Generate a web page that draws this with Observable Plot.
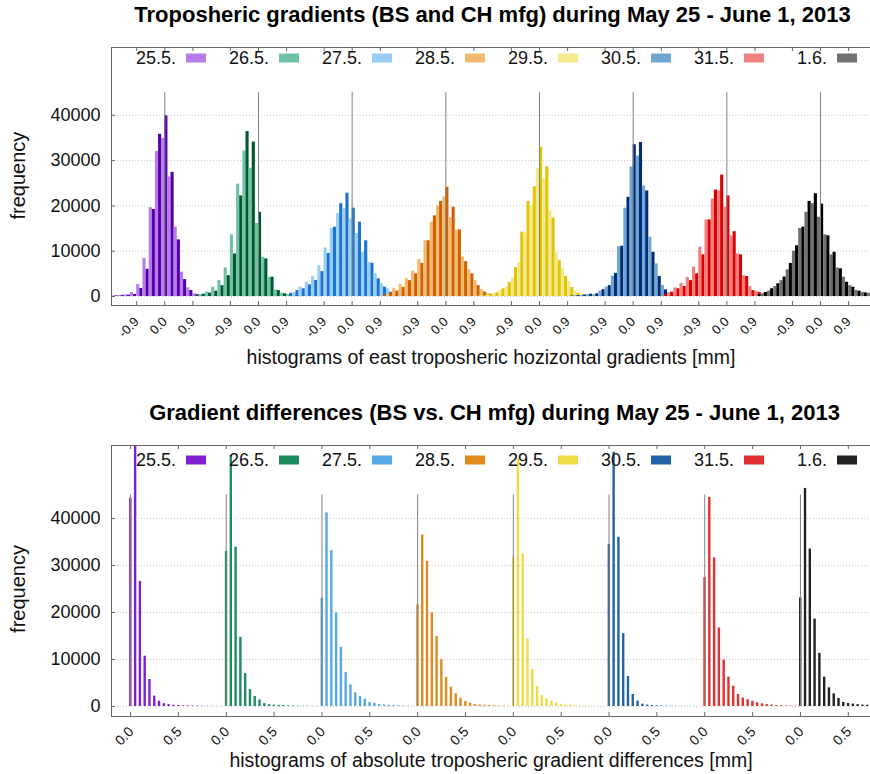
<!DOCTYPE html>
<html><head><meta charset="utf-8">
<script src="https://cdn.jsdelivr.net/npm/d3@7"></script>
<script src="https://cdn.jsdelivr.net/npm/@observablehq/plot@0.6"></script>
<style>
body{margin:0;background:#fff;font-family:"Liberation Sans",Arial,sans-serif;}
#wrap{position:relative;width:870px;height:774px;overflow:hidden;background:#fff;}
.title{position:absolute;text-align:center;font-weight:bold;font-size:22px;line-height:24px;color:#000;white-space:nowrap;}
.chart{position:absolute;left:0;}
</style></head><body>
<div id="wrap">
<div class="title" style="top:3px;left:113px;width:759px">Troposheric gradients (BS and CH mfg) during May 25 - June 1, 2013</div>
<div class="chart" id="c1" style="top:30px"></div>
<div class="title" style="top:401px;left:115px;width:759px">Gradient differences (BS vs. CH mfg) during May 25 - June 1, 2013</div>
<div class="chart" id="c2" style="top:425px"></div>
</div>
<script>
// ---- categories / labels ----
const days = ["25.5.","26.5.","27.5.","28.5.","29.5.","30.5.","31.5.","1.6."];
const lightColors = ["#b77ce9","#6fc3a5","#98cef1","#f0bb6c","#f4e98a","#6fa7d3","#f08080","#707070"];
const darkColors  = ["#5500aa","#005a2c","#1c74d0","#d06000","#e2c400","#002c78","#dd0000","#000000"];
const midColors   = ["#7e1fd3","#1e8c60","#56a8e6","#e28a22","#efdc45","#2163a8","#e23030","#222222"];
const yTicks = [0, 10000, 20000, 30000, 40000];
const eastTickOffsets = [-0.9, 0, 0.9];
const eastTickLabels = ["-0.9", "0.0", "0.9"];
const diffTickOffsets = [0, 0.5];
const diffTickLabels = ["0.0", "0.5"];
const eastGroupStep = 3;
const diffGroupStep = 1;
const eastBin = 0.1;      // east gradient histogram bin (k = -20 .. 16)
const diffBin = 0.05;     // difference histogram bin (j = 0 .. 19)
const eastKStart = -20;
const refLineValue = 45000;

// ---- east gradient histograms (bins k*0.1, k=-20..16; even k dark, odd k light) ----
const east255 = [50,50,100,100,150,200,250,350,300,880,440,2640,1760,8360,6000,19600,19200,32000,35800,34900,39900,26400,27400,15300,12500,5360,3740,1900,1320,600,400,300,200,150,100,100,50];
const east265 = [300,400,500,950,730,2050,1170,3500,2400,6300,4600,13600,9400,24800,22200,32100,36400,28300,34100,16100,18600,8660,8300,4250,4250,1470,1320,730,600,450,350,300,250,200,200,150,100];
const east275 = [700,900,1320,2050,1700,3150,2570,4400,3520,6800,5500,10700,9500,15000,15300,18300,20500,19400,22800,17100,19500,13900,16400,9760,12300,7560,7340,5100,3900,2800,2050,1690,950,600,400,300,200];
const east285 = [300,500,800,1800,1200,2700,2000,3900,3500,5600,5000,8200,7300,12300,12300,16400,17800,20000,21000,22000,24100,17400,19700,14700,14700,8700,7700,5900,5000,3500,2400,1500,1000,700,500,300,200];
const east295 = [100,150,200,300,400,700,800,1300,1700,2000,3100,4100,6400,7500,14200,14000,21000,20000,24200,28300,32900,26000,28600,18900,17300,9800,7900,6100,4400,3200,2000,1200,700,500,300,200,100];
const east305 = [100,150,200,250,300,400,500,400,600,1200,1500,2050,2400,4500,5100,11000,11100,19500,21900,28600,33500,31000,34000,24400,23300,13100,9760,7200,4400,2400,1470,800,500,300,200,150,100];
const east315 = [500,700,950,1900,1700,2900,2200,4200,3500,6500,5000,10900,9200,16900,16900,21500,23500,23300,26800,19700,22200,13400,14300,9400,9200,4600,4400,2200,1300,1170,900,500,400,300,200,150,100];
const east016 = [400,600,900,1200,1700,2200,2800,3500,4300,5900,7300,10000,11200,15000,15300,18600,21000,20500,22700,17500,20400,13600,13400,9200,9760,6300,6100,4250,3150,2400,2050,1320,1170,900,800,700,600];
const eastHist = [east255, east265, east275, east285, east295, east305, east315, east016];

// ---- absolute difference histograms (bins j*0.05, j=0..19) ----
const diff255 = [44300,58000,26600,10700,5740,2200,1130,600,400,250,200,150,120,100,80,60,50,40,30,20];
const diff265 = [33000,53400,33900,14700,7000,3600,2130,1400,600,400,300,250,200,150,100,80,60,50,40,30];
const diff275 = [23000,41200,33200,19900,12600,7200,4600,2900,2100,1550,850,700,400,300,250,200,150,100,80,60];
const diff285 = [21600,36500,30900,19900,14900,10000,6200,4100,2700,1770,1060,700,400,300,250,200,150,100,80,60];
const diff295 = [31800,52700,32500,14400,7870,4260,2340,1630,1060,700,430,300,250,200,150,100,80,60,50,40];
const diff305 = [34500,54100,36000,15500,6380,2550,1130,500,300,200,150,100,80,60,50,40,30,20,20,20];
const diff315 = [27400,44500,31600,16700,9900,6240,4330,2550,1770,1420,1130,780,570,400,300,200,150,100,80,60];
const diff016 = [23100,46400,33500,18600,11300,6240,3970,2700,1700,850,640,500,400,300,250,200,150,100,80,60];
const diffHist = [diff255, diff265, diff275, diff285, diff295, diff305, diff315, diff016];

const FONT = "Liberation Sans, Arial, Helvetica, sans-serif";

function addLegend(svg, colors, yPix) {
  const g = d3.select(svg).append("g").attr("font-family", FONT).attr("font-size", 18);
  days.forEach((d, i) => {
    const xr = 176 + 93 * i;
    g.append("text").attr("x", xr).attr("y", yPix).attr("text-anchor", "end")
      .attr("dy", "0.36em").attr("fill", "#111").text(d);
    g.append("rect").attr("x", xr + 10).attr("y", yPix - 4.5).attr("width", 20).attr("height", 9)
      .attr("fill", colors[i]);
  });
}

function chart({W, H, mL, mR, mT, mB, xDom, yDom, bars, ticks, groupStep, tickFont, tickDx, tickDy, xLabel, xLabelDy, yLabelValue}) {
  const pxX = (W - mL - mR) / (xDom[1] - xDom[0]);
  const pxY = (H - mT - mB) / (yDom[1] - yDom[0]);
  const groups = d3.range(days.length);
  return Plot.plot({
    width: W, height: H, marginLeft: mL, marginRight: mR, marginTop: mT, marginBottom: mB,
    style: {fontFamily: FONT, fontSize: "18px", color: "#111", background: "transparent", overflow: "visible"},
    x: {domain: xDom, axis: null},
    y: {domain: yDom, axis: null},
    color: {type: "identity"},
    marks: [
      Plot.ruleY(yTicks, {y: d => d, stroke: "#c8c8c8", strokeDasharray: "1,2"}),
      Plot.rect(bars, {x1: "x1", x2: "x2", y1: 0, y2: "v", fill: "fill", clip: true}),
      Plot.ruleX(groups, {x: g => g * groupStep, y1: 0, y2: refLineValue, stroke: "#808080", strokeWidth: 1}),
      // frame
      Plot.ruleX([xDom[0]], {stroke: "#666"}),
      Plot.ruleY([yDom[0]], {stroke: "#666"}),
      Plot.ruleY([yDom[1]], {stroke: "#666"}),
      // inward ticks
      Plot.ruleX(ticks, {x: "x", y1: yDom[0], y2: yDom[0] + 4 / pxY, stroke: "#666"}),
      Plot.ruleX(ticks, {x: "x", y1: yDom[1] - 4 / pxY, y2: yDom[1], stroke: "#666"}),
      Plot.ruleY(yTicks, {y: d => d, x1: xDom[0], x2: xDom[0] + 4 / pxX, stroke: "#666"}),
      // tick labels
      Plot.text(ticks, {x: "x", text: "label", frameAnchor: "bottom", rotate: -45, textAnchor: "end", dx: tickDx, dy: tickDy, fontSize: tickFont, fill: "#111"}),
      Plot.text(yTicks, {y: d => d, text: d => String(d), frameAnchor: "left", textAnchor: "end", dx: -11, fontSize: 18, fill: "#111"}),
      Plot.text(["frequency"], {y: yLabelValue, frameAnchor: "left", textAnchor: "middle", dx: -93, rotate: -90, fontSize: 20, fill: "#111"}),
      Plot.text([xLabel], {frameAnchor: "bottom", dy: xLabelDy, fontSize: 19.5, fill: "#111"})
    ]
  });
}

// ---- top chart ----
const eastBars = [];
eastHist.forEach((arr, g) => arr.forEach((v, i) => {
  const k = eastKStart + i;
  const x1 = g * eastGroupStep + k * eastBin;
  eastBars.push({x1, x2: x1 + eastBin, v, fill: (k % 2 === 0) ? darkColors[g] : lightColors[g]});
}));
const eastTicks = [];
d3.range(days.length).forEach(g => eastTickOffsets.forEach((o, i) =>
  eastTicks.push({x: g * eastGroupStep + o, label: eastTickLabels[i]})));

const svg1 = chart({W: 870, H: 345, mL: 111, mR: 0, mT: 17, mB: 70,
  xDom: [-1.707, 22.6], yDom: [-1990, 54970], bars: eastBars, ticks: eastTicks,
  groupStep: eastGroupStep, tickFont: 13, tickDx: 3, tickDy: 17,
  xLabel: "histograms of east troposheric hozizontal gradients [mm]", xLabelDy: 58, yLabelValue: 26700});
document.getElementById("c1").appendChild(svg1);
addLegend(svg1, lightColors, 28);

// ---- bottom chart ----
const diffBars = [];
diffHist.forEach((arr, g) => arr.forEach((v, j) => {
  const c = g * diffGroupStep + j * diffBin + 0.003;
  diffBars.push({x1: c - diffBin / 4, x2: c + diffBin / 4, v, fill: midColors[g]});
}));
const diffTicks = [];
d3.range(days.length).forEach(g => diffTickOffsets.forEach((o, i) =>
  diffTicks.push({x: g * diffGroupStep + o, label: diffTickLabels[i]})));

const svg2 = chart({W: 870, H: 349, mL: 111, mR: 0, mT: 20, mB: 58,
  xDom: [-0.199, 7.732], yDom: [-2130, 55530], bars: diffBars, ticks: diffTicks,
  groupStep: diffGroupStep, tickFont: 14, tickDx: 4, tickDy: 16,
  xLabel: "histograms of absolute troposheric gradient differences [mm]", xLabelDy: 50, yLabelValue: 25000});
document.getElementById("c2").appendChild(svg2);
addLegend(svg2, midColors, 35);
</script>
</body></html>
